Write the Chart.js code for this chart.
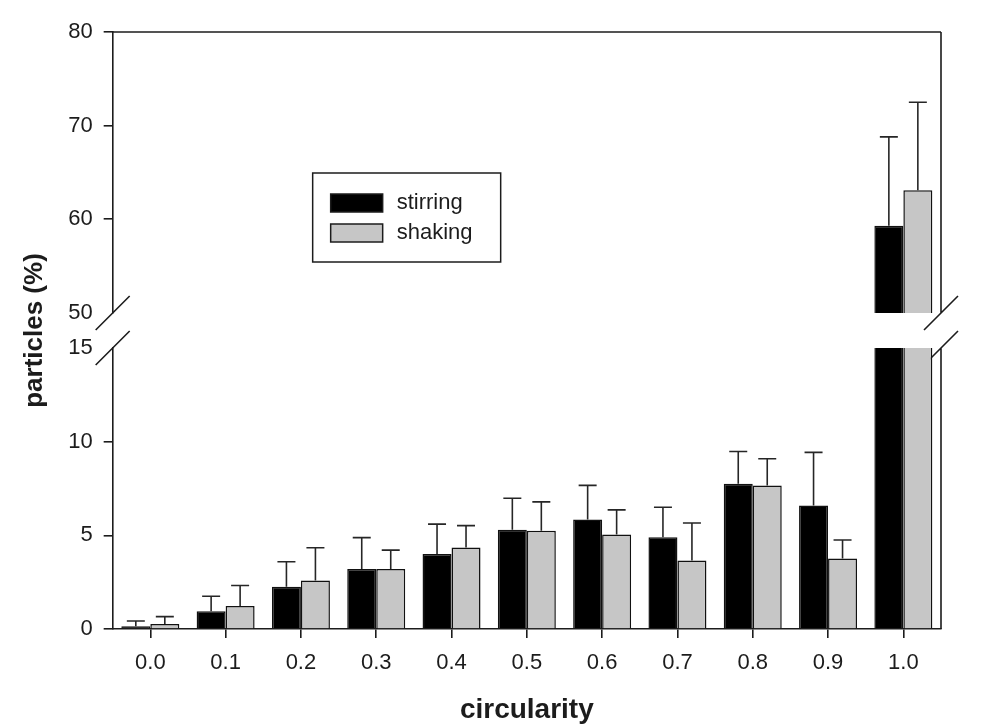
<!DOCTYPE html>
<html>
<head>
<meta charset="utf-8">
<script src="https://cdn.jsdelivr.net/npm/chart.js@4.4.1/dist/chart.umd.min.js"></script>
<style>
  html, body { margin: 0; padding: 0; background: #fff; }
  canvas { display: block; }
</style>
</head>
<body>
<canvas id="chart" width="1006" height="727"></canvas>
<script>
// particle circularity classes, mean share (%) and upper SD
const categories = ['0.0', '0.1', '0.2', '0.3', '0.4', '0.5', '0.6', '0.7', '0.8', '0.9', '1.0']
const stirring = [0.15, 0.95, 2.25, 3.2, 4.0, 5.3, 5.85, 4.9, 7.75, 6.6, 59.3]
const stirringErr = [0.28, 0.8, 1.34, 1.68, 1.6, 1.68, 1.82, 1.6, 1.73, 2.83, 9.5]
const shaking = [0.27, 1.23, 2.59, 3.2, 4.35, 5.25, 5.05, 3.66, 7.66, 3.77, 63.1]
const shakingErr = [0.39, 1.09, 1.75, 1.01, 1.17, 1.54, 1.31, 2.0, 1.43, 0.98, 9.4]

// broken y axis: lower and upper segments
const lowerTicks = [0, 5, 10, 15]
const upperTicks = [50, 60, 70, 80]

const INK = '#1c1c1c'
const FONT = '"Liberation Sans", Arial, sans-serif'
const stirringColor = '#000000'
const shakingColor = '#c6c6c6'


// keep each dataset inside its own axis segment, then add the SD whiskers
const segmentClip = {
	id:'segmentClip',
	beforeDatasetDraw(chart, args){
		const scale = chart.scales[args.meta.yAxisID]
		const { left, right } = chart.chartArea
		const ctx = chart.ctx
		ctx.save()
		ctx.beginPath()
		ctx.rect(left - 2, scale.top, right - left + 4, scale.bottom - scale.top)
		ctx.clip()
	},
	afterDatasetDraw(chart, args){
		const ctx = chart.ctx
		const meta = args.meta
		const ds = chart.data.datasets[args.index]
		const scale = chart.scales[meta.yAxisID]
		ctx.lineWidth = 1.6
		ctx.strokeStyle = '#262626'
		meta.data.forEach((bar, i) => {
			const top = scale.getPixelForValue(ds.data[i] + ds.errors[i])
			ctx.beginPath()
			ctx.moveTo(bar.x, bar.y)
			ctx.lineTo(bar.x, top)
			ctx.moveTo(bar.x - 9, top)
			ctx.lineTo(bar.x + 9, top)
			ctx.stroke()
		})
		ctx.restore()
	}
}

// top / right frame and the break marks on both sides
const frameBreaks = {
	id:'frameBreaks',
	beforeDatasetsDraw(chart){
		const { ctx, chartArea } = chart
		const hi = chart.scales.yHigh
		const lo = chart.scales.yLow
		const d = 17
		ctx.save()
		ctx.lineWidth = 1.6
		ctx.strokeStyle = INK
		ctx.beginPath()
		ctx.moveTo(chartArea.left, chartArea.top)
		ctx.lineTo(chartArea.right, chartArea.top)
		ctx.moveTo(chartArea.right, hi.top)
		ctx.lineTo(chartArea.right, hi.bottom)
		ctx.moveTo(chartArea.right, lo.top)
		ctx.lineTo(chartArea.right, lo.bottom)
		for(const x of [chartArea.left, chartArea.right]){
			for(const y of [hi.bottom, lo.top]){
				ctx.moveTo(x - d, y + d)
				ctx.lineTo(x + d, y - d)
			}
		}
		ctx.stroke()
		ctx.restore()
	}
}

// framed legend inside the plot
const boxLegend = {
	id:'boxLegend',
	afterDraw(chart){
		const { ctx, chartArea } = chart
		const x = chartArea.left + 200
		const y = chartArea.top + 141
		ctx.save()
		ctx.lineWidth = 1.5
		ctx.strokeStyle = INK
		ctx.strokeRect(x, y, 188, 89)
		ctx.font = `22px ${FONT}`
		ctx.textBaseline = 'middle'
		chart.data.datasets.filter(ds => ds.yAxisID === 'yLow').forEach((ds, i) => {
			const sy = y + 21 + i * 30
			ctx.fillStyle = ds.backgroundColor
			ctx.fillRect(x + 18, sy, 52, 18)
			ctx.strokeRect(x + 18, sy, 52, 18)
			ctx.fillStyle = INK
			ctx.fillText(ds.label, x + 84, sy + 9)
		})
		ctx.restore()
	}
}


function valueAxis(ticks, weight, hiddenTick){
	return {
		type:'linear',
		position:'left',
		stack:'y',
		stackWeight:280,
		weight,
		stacked:false,
		beginAtZero:false,
		min:ticks[0],
		max:ticks[ticks.length - 1],
		afterBuildTicks: scale => { scale.ticks = ticks.map(value => ({ value })) },
		border:{ color:INK, width:1.6 },
		grid:{
			drawOnChartArea:false,
			tickLength:9,
			lineWidth:1.6,
			color: c => (c.tick && c.tick.value === hiddenTick) ? 'rgba(0,0,0,0)' : INK
		},
		ticks:{ color:INK, padding:11, font:{ family:FONT, size:22 } }
	}
}

const barStyle = { borderColor:'#111', borderWidth:1.5, borderSkipped:'start' }

new Chart(document.getElementById('chart'), {
	type:'bar',
	data:{
		labels:categories,
		datasets:[
			{ label:'stirring', data:stirring, errors:stirringErr, backgroundColor:stirringColor, stack:'stirring', yAxisID:'yLow', ...barStyle },
			{ label:'shaking', data:shaking, errors:shakingErr, backgroundColor:shakingColor, stack:'shaking', yAxisID:'yLow', ...barStyle },
			{ label:'stirring', data:stirring, errors:stirringErr, backgroundColor:stirringColor, stack:'stirring', yAxisID:'yHigh', ...barStyle },
			{ label:'shaking', data:shaking, errors:shakingErr, backgroundColor:shakingColor, stack:'shaking', yAxisID:'yHigh', ...barStyle }
		]
	},
	options:{
		responsive:false,
		animation:false,
		events:[],
		layout:{ padding:{ left:15, right:65, top:32, bottom:0 } },
		datasets:{ bar:{ categoryPercentage:0.77, barPercentage:1 } },
		plugins:{
			legend:{ display:false },
			tooltip:{ enabled:false }
		},
		scales:{
			x:{
				border:{ color:INK, width:1.6 },
				grid:{ offset:false, drawOnChartArea:false, tickLength:9, lineWidth:1.6, color:INK },
				ticks:{ color:INK, padding:12, font:{ family:FONT, size:22 } },
				title:{
					display:true,
					text:'circularity',
					color:INK,
					padding:{ top:5, bottom:0 },
					font:{ family:FONT, size:28, weight:'bold' }
				}
			},
			yTitle:{
				type:'linear',
				position:'left',
				weight:10,
				ticks:{ display:false },
				grid:{ display:false, drawTicks:false },
				border:{ display:false },
				title:{
					display:true,
					text:'particles (%)',
					color:INK,
					padding:{ top:4, bottom:7 },
					font:{ family:FONT, size:26, weight:'bold' }
				}
			},
			yHigh:valueAxis(upperTicks, 3, upperTicks[0]),
			yGap:{
				type:'linear',
				position:'left',
				stack:'y',
				stackWeight:35,
				weight:2,
				ticks:{ display:false },
				grid:{ display:false, drawTicks:false },
				border:{ display:false }
			},
			yLow:valueAxis(lowerTicks, 1, lowerTicks[lowerTicks.length - 1])
		}
	},
	plugins:[segmentClip, frameBreaks, boxLegend]
})
</script>
</body>
</html>
